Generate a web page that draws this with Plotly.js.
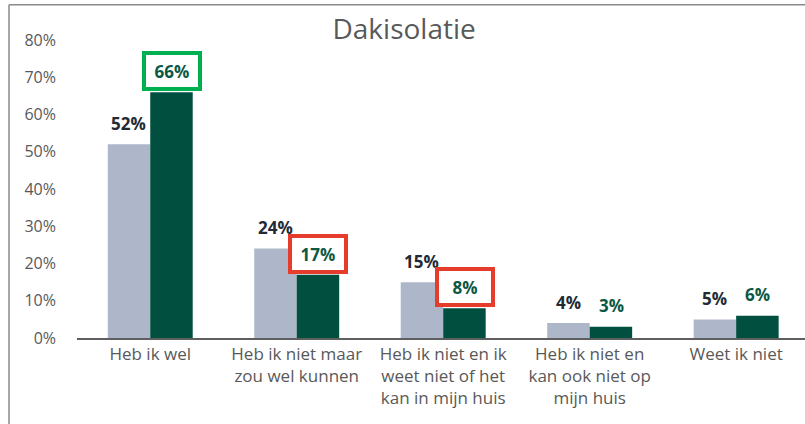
<!DOCTYPE html>
<html>
<head>
<meta charset="utf-8">
<script src="https://cdn.plot.ly/plotly-3.0.1.min.js"></script>
<style>
  html, body { margin: 0; padding: 0; background: #fff; }
  #grafiek { width: 805px; height: 424px; }
</style>
</head>
<body>
<div id="grafiek"></div>
<script>
// categorieen en waarden (in procenten)
let categorieen = [
    'Heb ik wel',
    'Heb ik niet maar<br>zou wel kunnen',
    'Heb ik niet en ik<br>weet niet of het<br>kan in mijn huis',
    'Heb ik niet en<br>kan ook niet op<br>mijn huis',
    'Weet ik niet'
];
let waardenGrijs = [52, 24, 15, 4, 5];
let waardenGroen = [66, 17, 8, 3, 6];
// kaderkleur rond de groene labels (null = geen kader)
let kaderGroen = ['#00b050', '#e53c2b', '#e53c2b', null, null];

let grafGrijs =
{
    x: categorieen,
    y: waardenGrijs,
    type: 'bar',
    marker: { color: '#adb7c9' },
    hoverinfo: 'skip'
}
let grafGroen =
{
    x: categorieen,
    y: waardenGroen,
    type: 'bar',
    marker: { color: '#004f3f' },
    hoverinfo: 'skip'
}

// labels boven de staven
let labels = [];
for (let i = 0; i < categorieen.length; i++)
{
    labels.push({
        x: categorieen[i], y: waardenGrijs[i],
        xref: 'x', yref: 'y',
        text: waardenGrijs[i] + '%',
        showarrow: false,
        xshift: -21.5, yshift: 21, yanchor: 'middle',
        font: { family: 'Open Sans', size: 17, color: '#222a35', weight: 'bold' }
    });
    let lab = {
        x: categorieen[i], y: waardenGroen[i],
        xref: 'x', yref: 'y',
        text: waardenGroen[i] + '%',
        showarrow: false,
        xshift: 21.5, yshift: 21, yanchor: 'middle',
        font: { family: 'Open Sans', size: 17, color: '#0b5844', weight: 'bold' }
    };
    if (kaderGroen[i])
    {
        lab.bordercolor = kaderGroen[i];
        lab.borderwidth = 4;
        lab.borderpad = 1;
        lab.width = 50;
        lab.height = 30;
        lab.bgcolor = '#ffffff';
    }
    labels.push(lab);
}

let layout =
{
    width: 805,
    height: 424,
    margin: { l: 77, r: 0, t: 40, b: 86 },
    paper_bgcolor: '#ffffff',
    plot_bgcolor: '#ffffff',
    showlegend: false,
    barmode: 'group',
    bargap: 0.42,
    bargroupgap: 0,
    font: { family: 'Open Sans', color: '#595959' },
    title: {
        text: 'Dakisolatie',
        font: { family: 'Open Sans', size: 28, color: '#595959' },
        x: 0.502, xref: 'container', xanchor: 'center',
        y: 0.93, yref: 'container', yanchor: 'middle'
    },
    xaxis: {
        range: [-0.5, 4.47],
        showline: true,
        linecolor: '#5f5f5f',
        linewidth: 1.5,
        showgrid: false,
        ticks: '',
        tickfont: { family: 'Open Sans', size: 17, color: '#595959' },
        fixedrange: true
    },
    yaxis: {
        range: [0, 80],
        dtick: 10,
        ticksuffix: '%',
        showgrid: false,
        zeroline: false,
        showline: false,
        ticks: '',
        ticklabelstandoff: 20,
        tickfont: { family: 'Open Sans', size: 16, color: '#595959' },
        fixedrange: true
    },
    annotations: labels,
    // kader om de grafiek (links en boven zichtbaar)
    shapes: [
        { type: 'line', xref: 'paper', yref: 'paper', x0: -0.0934, x1: -0.0934, y0: 1.1185, y1: -0.35,
          line: { color: '#8a8a8a', width: 1.5 } },
        { type: 'line', xref: 'paper', yref: 'paper', x0: -0.0934, x1: 1.05, y0: 1.1185, y1: 1.1185,
          line: { color: '#8a8a8a', width: 1.5 } }
    ]
}

let contenedor = document.getElementById('grafiek');
Plotly.newPlot(contenedor, [grafGrijs, grafGroen], layout, { displayModeBar: false, staticPlot: true });
</script>
</body>
</html>
